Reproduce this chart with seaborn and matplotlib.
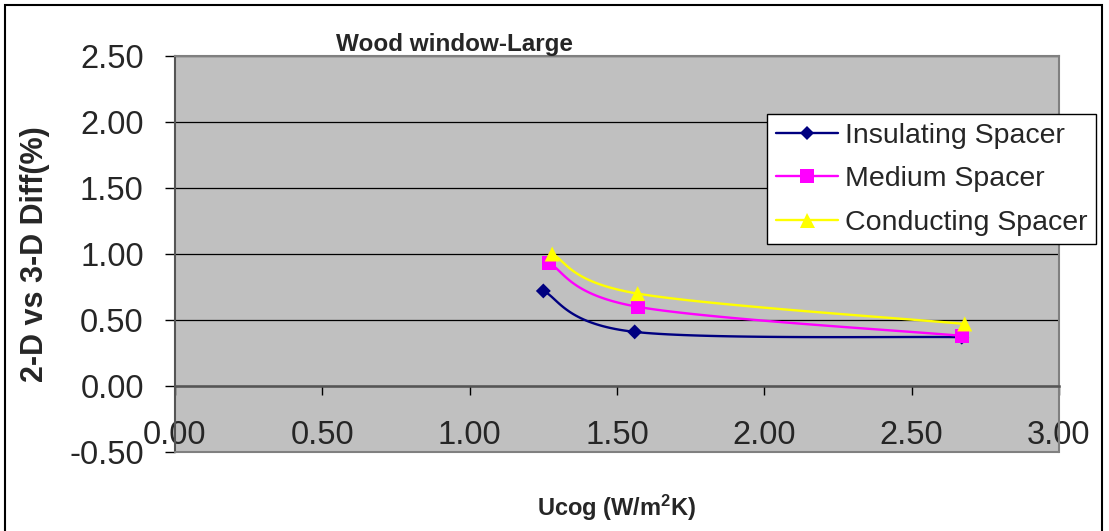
import matplotlib
matplotlib.use("Agg")
import matplotlib.pyplot as plt
import numpy as np
import pandas as pd
import seaborn as sbn
from matplotlib.lines import Line2D
from matplotlib.patches import Rectangle

# values
spacers = ["Insulating Spacer", "Medium Spacer", "Conducting Spacer"]
ucog_ins = [1.25, 1.56, 2.67]
diff_ins = [0.72, 0.41, 0.37]
ucog_med = [1.27, 1.57, 2.67]
diff_med = [0.93, 0.60, 0.38]
ucog_con = [1.28, 1.57, 2.68]
diff_con = [1.00, 0.70, 0.47]
x_ticks = [0.0, 0.5, 1.0, 1.5, 2.0, 2.5, 3.0]
y_ticks = [-0.5, 0.0, 0.5, 1.0, 1.5, 2.0, 2.5]

colors = ["#000080", "#FF00FF", "#FFFF00"]
markers = ["D", "s", "^"]
msizes = [7.6, 10.0, 10.8]


def smooth(xs, ys, n=40):
    # excel style smoothed line (bezier with catmull-rom control points)
    p = np.column_stack([xs, ys]).astype(float)
    p = np.vstack([p[0], p, p[-1]])
    out = []
    for i in range(1, len(p) - 2):
        p0, p1, p2, p3 = p[i - 1], p[i], p[i + 1], p[i + 2]
        c1 = p1 + (p2 - p0) / 6
        c2 = p2 - (p3 - p1) / 6
        t = np.linspace(0, 1, n)[:, None]
        seg = ((1 - t) ** 3 * p1 + 3 * (1 - t) ** 2 * t * c1
               + 3 * (1 - t) * t ** 2 * c2 + t ** 3 * p2)
        out.append(seg if i == 1 else seg[1:])
    return np.vstack(out)


sbn.set_style("white")
plt.rcParams["font.family"] = ["Liberation Sans", "DejaVu Sans"]
plt.rcParams["mathtext.fontset"] = "custom"
plt.rcParams["mathtext.rm"] = "Liberation Sans"
plt.rcParams["mathtext.bf"] = "Liberation Sans:bold"

fig = plt.figure(figsize=(11.09, 5.31), dpi=100)
ax = fig.add_axes([175 / 1109, 1 - 452 / 531, 884 / 1109, 396 / 531])
ax.set_facecolor("#C0C0C0")

series = [(ucog_ins, diff_ins), (ucog_med, diff_med), (ucog_con, diff_con)]
for name, (xs, ys), c, m, ms in zip(spacers, series, colors, markers, msizes):
    curve = smooth(xs, ys)
    df = pd.DataFrame({"u": curve[:, 0], "d": curve[:, 1]})
    sbn.lineplot(data=df, x="u", y="d", sort=False, estimator=None,
                 color=c, linewidth=1.7, ax=ax, zorder=3)
    pts = pd.DataFrame({"u": xs, "d": ys})
    sbn.scatterplot(data=pts, x="u", y="d", marker=m, s=ms ** 2, color=c,
                    edgecolor="none", linewidth=0, ax=ax, zorder=4)

ax.set_xlim(0, 3)
ax.set_ylim(-0.5, 2.5)
ax.set_xticks(x_ticks)
ax.set_xticklabels([f"{v:.2f}" for v in x_ticks])
ax.set_yticks(y_ticks)
ax.set_yticklabels([f"{v:.2f}" for v in y_ticks])
ax.yaxis.grid(True, color="black", linewidth=0.9)
ax.xaxis.grid(False)
ax.set_axisbelow(True)

for side in ["top", "right"]:
    ax.spines[side].set_color("#808080")
    ax.spines[side].set_linewidth(1.5)
ax.spines["left"].set_color("#555555")
ax.spines["left"].set_linewidth(1.5)
ax.spines["bottom"].set_position(("data", 0))
ax.spines["bottom"].set_color("#555555")
ax.spines["bottom"].set_linewidth(1.8)
ax.axhline(-0.5, color="#808080", linewidth=1.5, clip_on=False, zorder=5)

ax.tick_params(axis="y", direction="out", length=7.5, width=1, color="black",
               pad=15, labelsize=23.5, left=True)
ax.tick_params(axis="x", direction="out", length=6.5, width=1, color="black",
               pad=18, labelsize=23.5, bottom=True)

ax.set_xlabel(r"Ucog (W/m$\mathbf{^2}$K)", fontsize=17, fontweight="bold")
ax.xaxis.set_label_coords(0.5, -0.141)
ax.xaxis.label.set_va("center")
ax.set_ylabel("2-D vs 3-D Diff(%)", fontsize=22, fontweight="bold")
ax.yaxis.set_label_coords(-0.158, 0.5)
ax.yaxis.label.set_va("center")

fig.text(455 / 1109, 1 - 44 / 531, "Wood window-Large", fontsize=17.5,
         fontweight="bold", ha="center", va="center")

handles = [Line2D([], [], color=c, marker=m, markersize=ms,
                  markeredgewidth=0, linewidth=1.7)
           for c, m, ms in zip(colors, markers, msizes)]
leg = fig.legend(handles, spacers, loc="upper left",
                 bbox_to_anchor=(767 / 1109, 1 - 114 / 531), fontsize=20.5,
                 frameon=True, fancybox=False, framealpha=1, edgecolor="black",
                 handlelength=2.2, handletextpad=0.25, labelspacing=0.62,
                 borderpad=0.3, borderaxespad=0)
leg.get_frame().set_linewidth(1.0)

fig.add_artist(Rectangle((5 / 1109, -0.05), 1097 / 1109, 1 - 5 / 531 + 0.05,
                         transform=fig.transFigure, fill=False,
                         edgecolor="black", linewidth=1.5))

fig.savefig("out.png", dpi=100)
